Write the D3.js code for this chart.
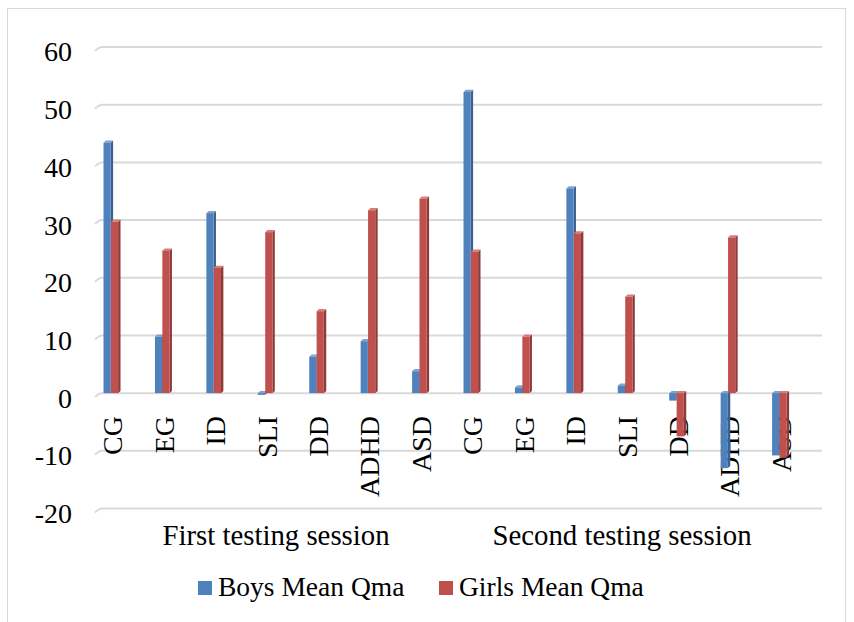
<!DOCTYPE html>
<html>
<head>
<meta charset="utf-8">
<script src="https://cdn.jsdelivr.net/npm/d3@7"></script>
<style>
  html, body { margin: 0; padding: 0; background: #fff; }
  svg { display: block; }
  svg text { font-family: "Liberation Serif", "Times New Roman", serif; }
</style>
</head>
<body>
<svg id="chart" width="854" height="622"></svg>
<script>
// Mean Qma per group, by sex, across two testing sessions
const groups = ["CG", "EG", "ID", "SLI", "DD", "ADHD", "ASD"];
const sessions = ["First testing session", "Second testing session"];
const boysMean = [43.4, 9.8, 31.2, -0.3, 6.3, 9.0, 3.8,
                  52.2, 1.0, 35.5, 1.3, -1.3, -13.0, -10.8];
const girlsMean = [29.7, 24.7, 21.7, 27.9, 14.2, 31.7, 33.7,
                   24.5, 9.8, 27.7, 16.7, -7.5, 27.0, -11.2];
const seriesNames = ["Boys Mean Qma", "Girls Mean Qma"];
const yTicks = [-20, -10, 0, 10, 20, 30, 40, 50, 60];

const svg = d3.select("#chart");

// outer frame
svg.append("rect").attr("x", 7.5).attr("y", 8.5).attr("width", 838).attr("height", 620)
  .attr("fill", "none").attr("stroke", "#d9d9d9").attr("stroke-width", 1);

const cats = [];
sessions.forEach((s, si) => groups.forEach((g, gi) => cats.push({ s: si, g, i: si * groups.length + gi })));

const x = d3.scaleBand().domain(cats.map(c => c.i)).range([86, 806]);
const y = d3.scaleLinear().domain([-20, 60]).range([508.5, 47]);

// gridlines with a short slanted stub at the left (back wall depth)
const depthX = 7, depthY = 4;
const grid = svg.append("g");
yTicks.forEach(t => {
  const gy = y(t);
  grid.append("path")
    .attr("d", `M95,${gy + depthY} Q99,${gy} ${95 + depthX},${gy} L822,${gy}`)
    .attr("fill", "none").attr("stroke", "#d9d9d9").attr("stroke-width", 2);
});

// y axis labels
const yAxis = d3.axisLeft(y).tickValues(yTicks).tickSize(0).tickPadding(0).tickFormat(d => String(d));
const yg = svg.append("g").attr("transform", "translate(72,5)").call(yAxis)
  .attr("font-family", null).attr("font-size", null);
yg.select(".domain").remove();
yg.selectAll("text").attr("font-size", 28).attr("fill", "#000");

// category labels, rotated (drawn beneath the bars)
const catG = svg.append("g");
cats.forEach(c => {
  const cx = x(c.i) + x.bandwidth() / 2;
  catG.append("text")
    .attr("transform", `translate(${cx + 1},416) rotate(-90)`)
    .attr("text-anchor", "end").attr("dominant-baseline", "central")
    .attr("font-size", 28).attr("fill", "#000")
    .text(c.g);
});

// bars with a simple 3D look: front, side and top faces
const palette = [
  { front: "#4F81BD", side: "#3A6190", top: "#7FA3D0" },
  { front: "#C0504D", side: "#8E3A38", top: "#D57D7A" }
];
const barW = 7.2, dX = 2.4, dY = 2.2;
const barsG = svg.append("g");
cats.forEach(c => {
  const cx = x(c.i) + x.bandwidth() / 2;
  [boysMean[c.i], girlsMean[c.i]].forEach((v, k) => {
    const col = palette[k];
    const x0 = cx - 8.2 + k * (barW + 0.2);
    const yTop = Math.min(y(v), y(0));
    const yBot = Math.max(y(v), y(0));
    const g = barsG.append("g");
    g.append("path")
      .attr("d", `M${x0 + barW},${yTop} L${x0 + barW + dX},${yTop - dY} L${x0 + barW + dX},${yBot - dY} L${x0 + barW},${yBot} Z`)
      .attr("fill", col.side);
    g.append("path")
      .attr("d", `M${x0},${yTop} L${x0 + dX},${yTop - dY} L${x0 + barW + dX},${yTop - dY} L${x0 + barW},${yTop} Z`)
      .attr("fill", col.top);
    g.append("rect")
      .attr("x", x0).attr("y", yTop).attr("width", barW).attr("height", Math.max(0.8, yBot - yTop))
      .attr("fill", col.front);
  });
});

// session labels
sessions.forEach((s, si) => {
  const first = si * groups.length, last = first + groups.length - 1;
  const mid = (x(first) + x(last) + x.bandwidth()) / 2 + (si === 0 ? 10 : -4);
  svg.append("text").attr("x", mid).attr("y", 545)
    .attr("text-anchor", "middle").attr("font-size", 28.8).attr("fill", "#000").text(s);
});

// legend
const legendX = [198, 439];
seriesNames.forEach((n, k) => {
  svg.append("rect").attr("x", legendX[k]).attr("y", 581).attr("width", 14).attr("height", 14)
    .attr("fill", palette[k].front);
  svg.append("text").attr("x", legendX[k] + 20).attr("y", 596)
    .attr("font-size", 27.5).attr("fill", "#000").text(n);
});
</script>
</body>
</html>
